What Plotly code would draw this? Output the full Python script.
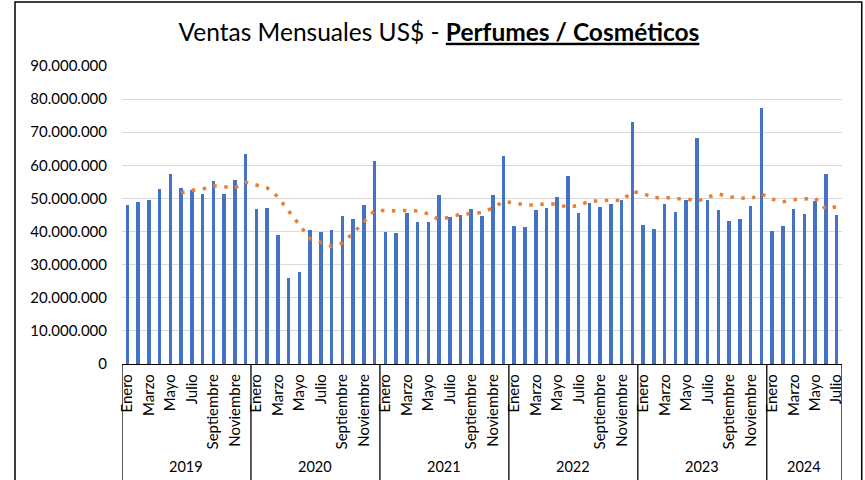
import plotly.graph_objects as go
import pandas as pd

# Monthly sales (US$), Jan 2019 - Jul 2024
years = ["2019", "2020", "2021", "2022", "2023", "2024"]
month_names = ["Enero", "Febrero", "Marzo", "Abril", "Mayo", "Junio", "Julio",
               "Agosto", "Septiembre", "Octubre", "Noviembre", "Diciembre"]

ventas_2019 = [48.0, 49.0, 49.5, 52.9, 57.5, 53.2, 52.6, 51.4, 55.3, 51.2, 55.5, 63.4]
ventas_2020 = [46.7, 47.1, 39.0, 25.9, 27.7, 40.5, 40.0, 40.5, 44.6, 43.7, 48.0, 61.3]
ventas_2021 = [40.0, 39.7, 45.5, 42.8, 42.8, 51.0, 44.3, 44.9, 46.8, 44.7, 51.0, 62.9]
ventas_2022 = [41.6, 41.4, 46.5, 47.0, 50.4, 56.8, 45.5, 48.6, 47.4, 48.3, 49.5, 73.2]
ventas_2023 = [41.9, 40.7, 48.3, 45.9, 49.5, 68.4, 49.5, 46.5, 43.2, 43.9, 47.7, 77.3]
ventas_2024 = [40.2, 41.6, 46.9, 45.2, 49.2, 57.4, 45.0]

series = [ventas_2019, ventas_2020, ventas_2021, ventas_2022, ventas_2023, ventas_2024]
ventas = [v * 1_000_000 for yr in series for v in yr]
n = len(ventas)
idx = list(range(n))

# Excel-style trendline: 6-period moving average of the sales series
media_movil = pd.Series(ventas).rolling(6).mean()

tick_vals = [i for i in idx if (i % 12) % 2 == 0]
tick_text = [month_names[i % 12] for i in tick_vals]

FONT = "Lato"

fig = go.Figure()
fig.add_trace(go.Bar(x=idx, y=ventas, width=0.33,
                     marker=dict(color="#4472C4", line=dict(width=0)),
                     showlegend=False))
fig.add_trace(go.Scatter(x=idx, y=media_movil, mode="lines",
                         line=dict(color="#ED7D31", width=3.5, dash="3.5px,7.5px"),
                         showlegend=False, connectgaps=False))

# year boundaries & labels
boundaries = [-0.5]
start = 0
for yr, vals in zip(years, series):
    end = start + len(vals)
    boundaries.append(end - 0.5)
    fig.add_annotation(x=(start + end - 1) / 2, y=-0.345, xref="x", yref="paper",
                       yanchor="middle", xanchor="center",
                       text=yr, showarrow=False,
                       font=dict(family=FONT, size=14.5, color="black"))
    start = end

for b in boundaries:
    fig.add_shape(type="line", xref="x", yref="paper", x0=b, x1=b, y0=0, y1=-0.45,
                  line=dict(color="black", width=1.3))

# chart border
fig.add_shape(type="rect", xref="paper", yref="paper",
              x0=-0.1486, x1=1.0274, y0=-0.45, y1=1.2148,
              line=dict(color="black", width=1.5))

fig.update_layout(
    width=865, height=480,
    margin=dict(l=122, r=23, t=66, b=116, autoexpand=False),
    paper_bgcolor="white", plot_bgcolor="white",
    separators=",.",
    font=dict(family=FONT, color="black"),
    title=dict(text="Ventas Mensuales US$ - <b><u>Perfumes / Cosméticos</u></b>",
               xref="container", yref="container", x=0.5075, y=0.933,
               xanchor="center", yanchor="middle",
               font=dict(family=FONT, size=24.5, color="black")),
    bargap=0,
)
fig.update_xaxes(range=[-0.5, n - 0.5], tickmode="array", tickvals=tick_vals,
                 ticktext=tick_text, tickangle=-90, showgrid=False, automargin=False,
                 showline=True, linecolor="black", linewidth=1.3, ticks="",
                 ticklabelstandoff=3,
                 tickfont=dict(family=FONT, size=15, color="black"), zeroline=False)
fig.update_yaxes(range=[0, 90_000_000], tickmode="linear", dtick=10_000_000,
                 tickformat=",d", showgrid=True, gridcolor="#D9D9D9", gridwidth=1,
                 zeroline=False, showline=False, ticks="", automargin=False,
                 ticklabelstandoff=14,
                 tickfont=dict(family=FONT, size=15, color="black"))

fig.write_html("out.html", config={"displayModeBar": False},
               post_script="document.body.style.margin='0px';"
                           "document.body.style.overflow='hidden';")
